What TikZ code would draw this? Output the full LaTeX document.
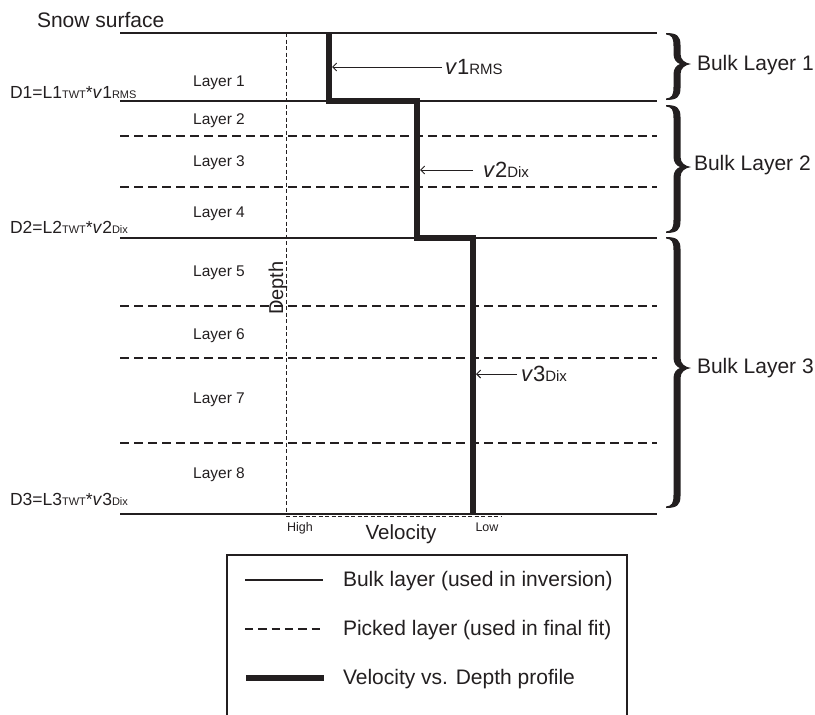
\documentclass[tikz,border=0pt]{standalone}
\usepackage{fontspec}
\setmainfont{Liberation Sans}
\usetikzlibrary{arrows.meta}
\definecolor{ink}{RGB}{35,31,32}
\newcommand\fsz[1]{\fontsize{#1}{#1}\selectfont}
\newcommand\subsm[1]{{\fontsize{11}{11}\selectfont #1}}
\newcommand\subbig[1]{{\fontsize{15}{15}\selectfont #1}}
\newcommand\bulkbrace[3]{%
  \pgfmathsetmacro\yt{#1}\pgfmathsetmacro\yb{#2}\pgfmathsetmacro\ym{#3}%
  \fill[ink] (666,\yt)
    .. controls (677,\yt) and (680.5,\yt+3) .. (680.5,\yt+12)
    -- (680.5,\ym-10)
    .. controls (680.5,\ym-4) and (685,\ym-1) .. (691,\ym)
    .. controls (685,\ym+1) and (680.5,\ym+4) .. (680.5,\ym+10)
    -- (680.5,\yb-12)
    .. controls (680.5,\yb-3) and (677,\yb) .. (666,\yb)
    -- (666,\yb-1.5)
    .. controls (672,\yb-2) and (673.5,\yb-5) .. (673.5,\yb-13)
    -- (673.5,\ym+10)
    .. controls (673.5,\ym+4) and (677,\ym+1) .. (680,\ym)
    .. controls (677,\ym-1) and (673.5,\ym-4) .. (673.5,\ym-10)
    -- (673.5,\yt+13)
    .. controls (673.5,\yt+5) and (672,\yt+2) .. (666,\yt+1.5)
    -- cycle;}
\begin{document}
\begin{tikzpicture}[x=1pt,y=-1pt,
  every node/.style={inner sep=0pt,outer sep=0pt,text=ink},
  bulk/.style={draw=ink,line width=1.2pt},
  picked/.style={draw=ink,line width=1.2pt,dash pattern=on 9pt off 5pt},
  axisdash/.style={draw=ink,line width=0.7pt,dash pattern=on 4pt off 2.5pt},
  profile/.style={draw=ink,line width=5.5pt,line join=miter},
  arr/.style={draw=ink,line width=0.9pt,-{Straight Barb[length=4pt,width=8pt]}},
  lyr/.style={font=\fsz{15.5},anchor=base},
  dlab/.style={font=\fsz{17.5},anchor=base west},
  vlab/.style={font=\fsz{22},anchor=base west},
  big/.style={font=\fsz{21},anchor=base west}]
\useasboundingbox (0,0) rectangle (815,715);
\fill[white] (0,0) rectangle (815,715);

% bulk (solid) layer boundaries
\foreach \y/\n in {33/a,101/b,238/c,514/d}{
  \coordinate (L\n) at (120,\y); \coordinate (R\n) at (657,\y);
  \draw[bulk] (L\n) -- (R\n);}
% picked (dashed) layer boundaries
\foreach \y/\n in {136/a,187/b,306/c,358/d,443/e}{
  \coordinate (PL\n) at (120,\y); \coordinate (PR\n) at (657,\y);
  \draw[picked] (PL\n) -- (PR\n);}

% depth / velocity axes
\coordinate (dtop) at (286,33);
\coordinate (dbot) at (286,514);
\coordinate (vax0) at (286,516);
\coordinate (vax1) at (502,516);
\draw[axisdash] (dtop) -- (dbot);
\draw[axisdash] (vax0) -- (vax1);

% velocity-depth profile
\coordinate (p0) at (329,33);
\coordinate (p1) at (329,101);
\coordinate (p2) at (417,101);
\coordinate (p3) at (417,238);
\coordinate (p4) at (473,238);
\coordinate (p5) at (473,514);
\draw[profile] (p0) -- (p1) -- (p2) -- (p3) -- (p4) -- (p5);

% layer labels
\node[lyr] (l1) at (219,86) {Layer 1};
\node[lyr] (l2) at (219,124) {Layer 2};
\node[lyr] (l3) at (219,166) {Layer 3};
\node[lyr] (l4) at (219,217) {Layer 4};
\node[lyr] (l5) at (219,276) {Layer 5};
\node[lyr] (l6) at (219,339) {Layer 6};
\node[lyr] (l7) at (219,403) {Layer 7};
\node[lyr] (l8) at (219,478) {Layer 8};

% depth formulas
\node[dlab] (d1) at (10,98) {D1=L1\subsm{TWT}*\textit{v}1\subsm{RMS}};
\node[dlab] (d2) at (10,233) {D2=L2\subsm{TWT}*\textit{v}2\subsm{Dix}};
\node[dlab] (d3) at (10,505) {D3=L3\subsm{TWT}*\textit{v}3\subsm{Dix}};

\node[big] (snow) at (37,27) {Snow surface};
\node[font=\fsz{20},rotate=90,anchor=base] (depth) at (283,288) {Depth};
\node[font=\fsz{20.5},anchor=base] (vel) at (401,539) {Velocity};
\node[font=\fsz{12.5},anchor=base] (high) at (300,531) {High};
\node[font=\fsz{12.5},anchor=base] (low) at (487,531) {Low};

% velocity labels with arrows
\node[vlab] (v1) at (445,74) {\textit{v}1\subbig{RMS}};
\node[vlab] (v2) at (483,177) {\textit{v}2\subbig{Dix}};
\node[vlab] (v3) at (521,381) {\textit{v}3\subbig{Dix}};
\coordinate (a1s) at (442,67); \coordinate (a1e) at (332,67);
\coordinate (a2s) at (473,170); \coordinate (a2e) at (420,170);
\coordinate (a3s) at (517,374); \coordinate (a3e) at (476,374);
\draw[arr] (a1s) -- (a1e);
\draw[arr] (a2s) -- (a2e);
\draw[arr] (a3s) -- (a3e);

% braces
\bulkbrace{33}{100}{64}
\bulkbrace{105}{233}{167}
\bulkbrace{237}{508}{368}
\node[big] (b1) at (697,70) {Bulk Layer 1};
\node[big] (b2) at (694,170) {Bulk Layer 2};
\node[big] (b3) at (697,373) {Bulk Layer 3};

% legend
\coordinate (k0) at (227,716);
\coordinate (k1) at (227,555);
\coordinate (k2) at (627,555);
\coordinate (k3) at (627,716);
\draw[draw=ink,line width=1.2pt] (k0) -- (k1) -- (k2) -- (k3);
\coordinate (s1a) at (245,580); \coordinate (s1b) at (323,580);
\coordinate (s2a) at (245,629); \coordinate (s2b) at (323,629);
\coordinate (s3a) at (246,678); \coordinate (s3b) at (324,678);
\draw[bulk] (s1a) -- (s1b);
\draw[picked,dash pattern=on 8.3pt off 5pt] (s2a) -- (s2b);
\draw[draw=ink,line width=6pt] (s3a) -- (s3b);
\node[big] (t1) at (343,586) {Bulk layer (used in inversion)};
\node[big] (t2) at (343,635) {Picked layer (used in final fit)};
\node[big] (t3) at (343,684) {Velocity vs. Depth profile};
\end{tikzpicture}
\end{document}
